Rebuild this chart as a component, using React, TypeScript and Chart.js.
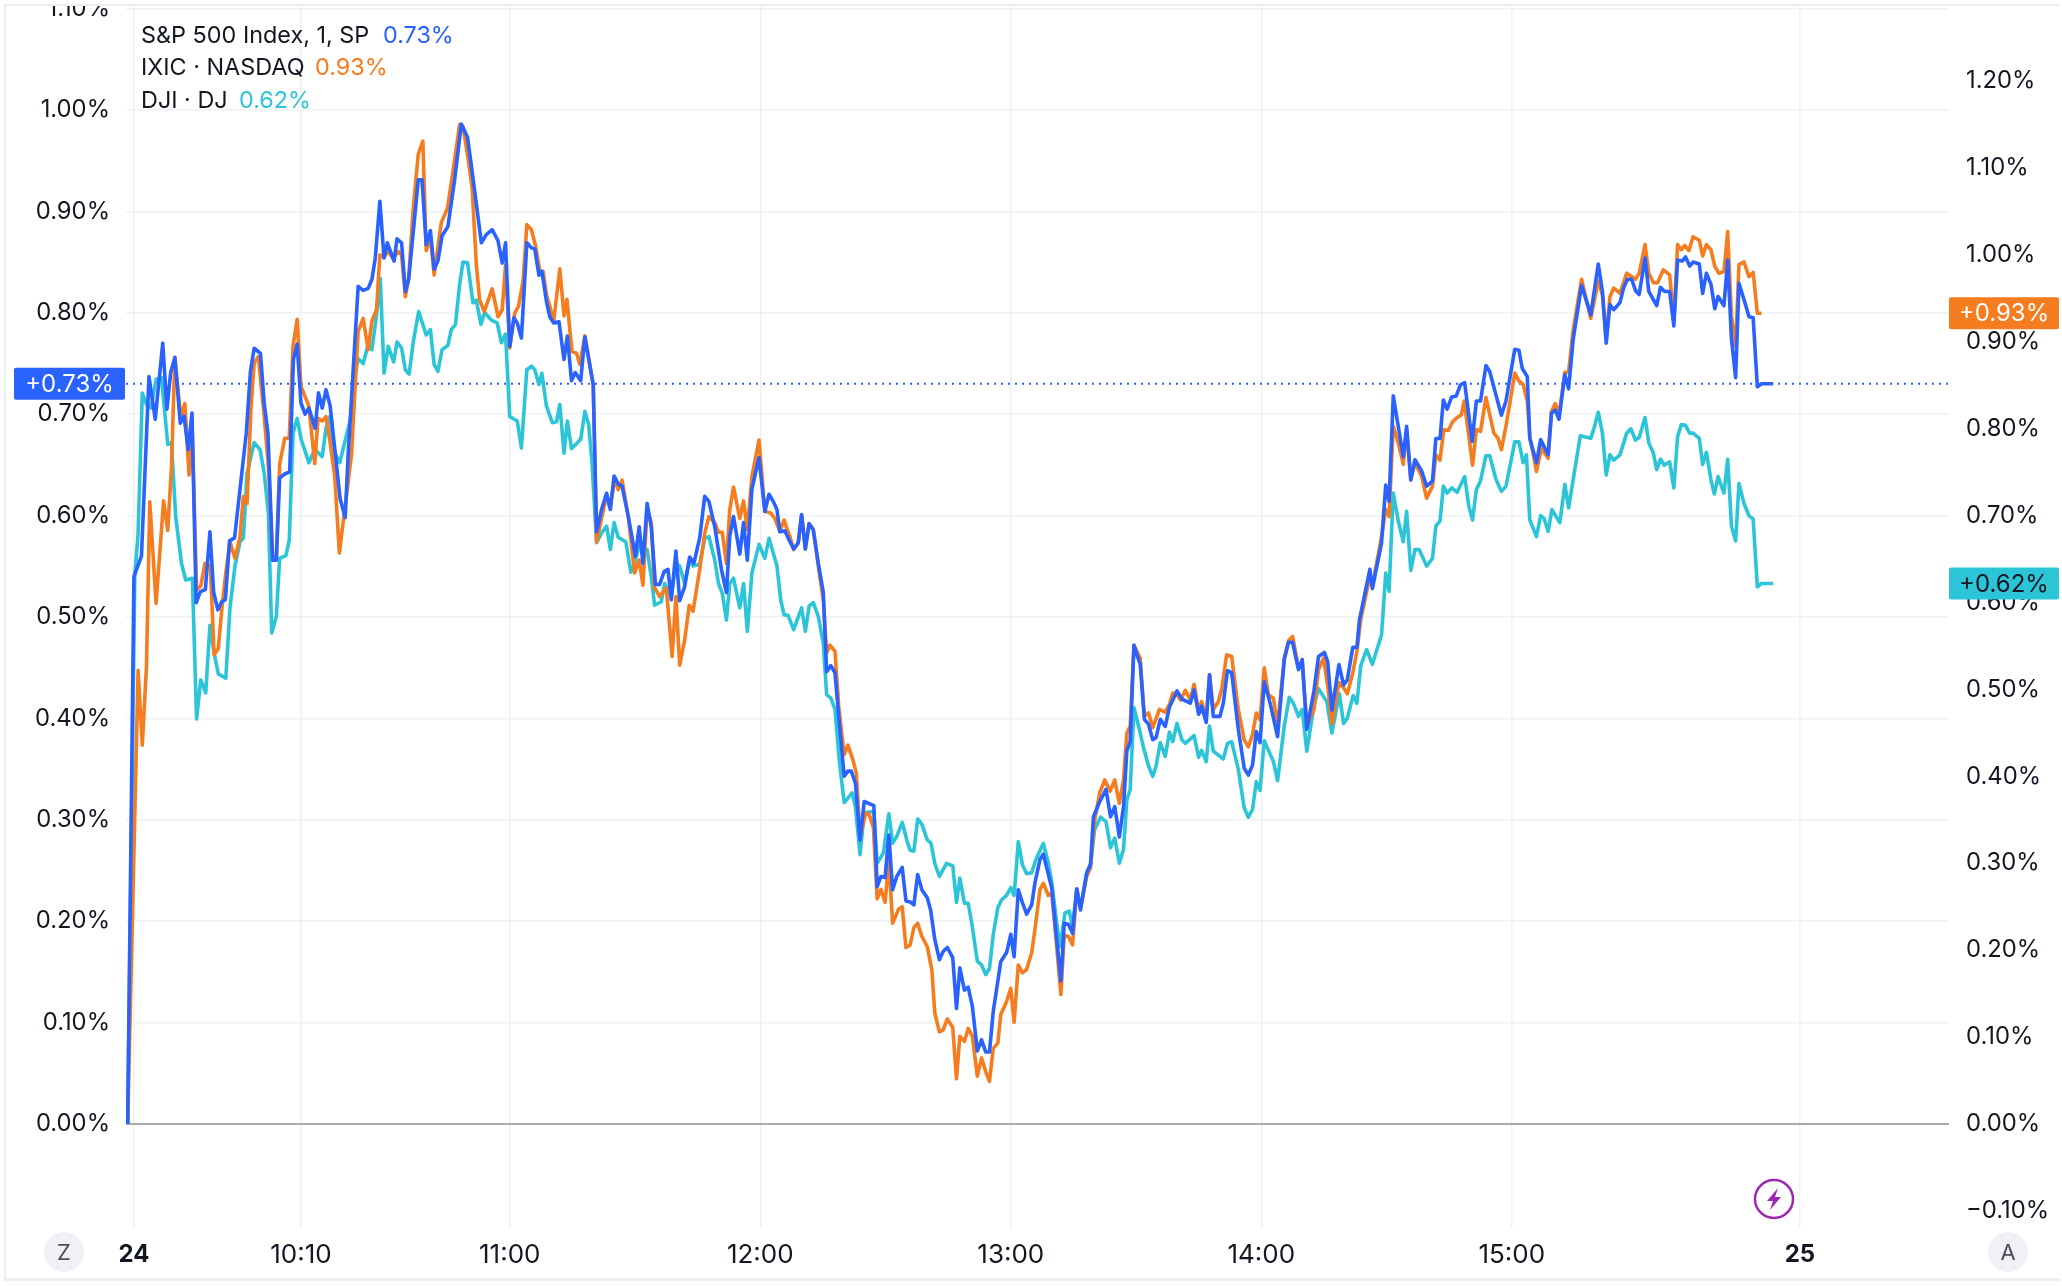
import { useEffect, useRef } from "react";
import { Chart, registerables, type Plugin } from "chart.js";

Chart.register(...registerables);

// [minutes after 09:30, % change]
const spxPoints = [
  [-1.5,0],[0,.54],[1.8,.56],[3.6,.737],[5.1,.695],[6.9,.77],[7.9,.705],[8.8,.741],[9.8,.756],[11.1,.691],[12,.698],[13,.665],[13.9,.701],[14.9,.514],[15.9,.525],[17.1,.527],[18.2,.584],[19.1,.524],[20.1,.507],[21,.515],[21.9,.517],[22.9,.575],[24.1,.578],[26.9,.681],[27.9,.742],[28.8,.765],[30.3,.76],[31.2,.711],[32.1,.681],[33.2,.556],[34.1,.556],[34.9,.637],[36.1,.641],[37.3,.643],[38.2,.754],[39.1,.769],[40,.711],[41,.7],[41.9,.706],[43.4,.686],[44.2,.721],[45.1,.706],[46,.724],[47,.708],[48.2,.662],[49.4,.616],[50.6,.598],[51.3,.66],
  [53.7,.826],[54.9,.822],[56.1,.824],[57,.833],[57.8,.854],[58.9,.91],[59.9,.854],[60.7,.869],[62.3,.851],[63,.873],[64.1,.869],[65,.821],[65.8,.833],[68.1,.931],[69,.931],[70,.867],[71,.881],[71.9,.843],[72.8,.851],[73.8,.876],[75.2,.885],[76.8,.931],[78.4,.986],[79.9,.973],[81.2,.933],[83.2,.869],[84.4,.877],[85.8,.882],[87.2,.871],[88.2,.849],[89,.869],[90,.767],[91,.795],[91.8,.79],[92.8,.775],[94.1,.869],[95.2,.864],[96,.863],[97,.837],[97.7,.841],[98.8,.811],[99.6,.796],[100.5,.79],[101.8,.791],
  [103,.754],[103.8,.777],[104.8,.733],[105.7,.741],[107,.733],[108,.776],[110,.729],[110.8,.584],[112,.606],[113.2,.622],[114.1,.606],[115,.639],[116,.631],[116.9,.629],[118.4,.599],[120.1,.56],[121,.589],[121.9,.553],[122.9,.612],[123.9,.589],[124.9,.532],[125.9,.532],[127,.545],[127.9,.547],[128.7,.517],[129.8,.565],[130.7,.516],[131.9,.53],[133.1,.559],[134.1,.553],[135.5,.578],[136.7,.619],[137.7,.614],[139.1,.589],[140.7,.547],[141.9,.524],[142.7,.58],[143.6,.599],[145.1,.562],[146,.593],[146.9,.556],[148,.626],[149.7,.657],
  [151.1,.604],[152.1,.621],[153.1,.614],[154,.606],[154.7,.584],[155.9,.585],[156.9,.576],[158,.567],[159.1,.573],[159.9,.601],[160.8,.567],[161.7,.592],[162.7,.586],[163.9,.553],[165.1,.524],[165.9,.446],[166.9,.452],[167.9,.445],[169,.392],[170.1,.343],[171,.348],[171.8,.348],[172.8,.336],[173.9,.28],[174.9,.318],[177.2,.314],[178,.234],[178.9,.244],[179.9,.243],[180.8,.285],[181.7,.231],[182.7,.244],[184,.253],[184.9,.22],[185.9,.219],[186.8,.216],[187.7,.246],[188.7,.231],[190,.223],[190.8,.211],[191.8,.182],[192.9,.162],[193.8,.17],[194.8,.174],[196.1,.164],[197,.114],[197.8,.154],[198.9,.132],[199.8,.135],[200.8,.116],[202,.072],[203,.083],[204,.071],[204.9,.071],[205.8,.111],[207.6,.16],[209,.169],[210,.187],[210.8,.165],[211.8,.231],[212.8,.218],[213.8,.207],[215,.216],[215.8,.238],[217,.261],[217.8,.266],[219.8,.233],[221,.182],[222,.141],[222.8,.198],[223.8,.197],[224.8,.188],[225.8,.232],[226.7,.211],[228.2,.248],[229.1,.256],[229.8,.303],[231.2,.317],[232.8,.33],
  [233.9,.303],[234.9,.313],[236,.283],[237,.313],[237.8,.368],[238.6,.377],[239.5,.472],[241,.453],[242,.399],[243,.394],[244,.379],[244.8,.381],[245.8,.399],[247,.392],[248,.411],[249.8,.427],[251,.419],[253,.415],[253.9,.428],[255,.404],[255.7,.412],[256.8,.396],[257.6,.443],[258.5,.402],[260.1,.402],[260.9,.415],[261.9,.447],[262.9,.445],[264.5,.389],[265.9,.351],[266.9,.344],[267.9,.354],[268.8,.387],[269.7,.376],[270.7,.436],[272.1,.415],[273.9,.382],[275.5,.458],[276.5,.475],[277.5,.475],[278.9,.448],[279.8,.458],[280.9,.389],[282.6,.427],[283.7,.461],[285.1,.465],[285.9,.456],[286.9,.408],[288.6,.453],[289.7,.433],[290.6,.438],[291.9,.47],[292.9,.47],[293.5,.497],
  [296,.547],[296.6,.528],[298.8,.573],[299.8,.63],[300.6,.614],[301.6,.718],[304,.658],[304.8,.688],[305.8,.635],[306.8,.655],[308.4,.644],[309.6,.629],[311,.634],[311.8,.676],[312.8,.676],[313.6,.714],[314.5,.705],[315.6,.717],[316.7,.718],[317.7,.729],[318.7,.731],[320.5,.673],[321.5,.713],[322.5,.713],[323.8,.748],[324.7,.742],[326.2,.719],[327.5,.699],[328.6,.713],[330.7,.764],[331.7,.763],[332.5,.745],[333.7,.737],[334.3,.676],[335.9,.652],[336.9,.675],[338.7,.66],[339.5,.701],[340.4,.704],[341.3,.695],[342.7,.739],[343.6,.725],[344.7,.774],[346.7,.827],
  [348.9,.798],[350.7,.848],[351.7,.821],[352.6,.77],[353.5,.808],[354.4,.803],[355.9,.81],[356.8,.825],[357.7,.833],[358.7,.833],[359.6,.822],[360.5,.818],[361.9,.854],[362.8,.821],[364.7,.807],[365.6,.825],[366.6,.821],[367.8,.821],[368.8,.787],[369.7,.852],[370.8,.851],[371.6,.855],[372.6,.846],[373.4,.85],[374.9,.848],[375.7,.819],[376.6,.839],[377.7,.828],[378.6,.804],[379.4,.816],[380.8,.807],[381.7,.852],[382.6,.774],[383.6,.736],[384.4,.829],[385.6,.813],[386.8,.796],[387.8,.795],[388.8,.727],[389.8,.73],[392.6,.73],
];

const ixicPoints = [
  [-1.5,0],[1,.522],[2,.436],[3,.526],[3.8,.716],[5.3,.599],[7.1,.717],[8.1,.683],[9,.757],[9.8,.882],[11.2,.814],[12.2,.829],[13.2,.747],[14,.795],[15,.615],[16,.619],[17,.645],[18.3,.642],[19.2,.54],[20.2,.547],[21.1,.595],[22,.634],[23,.67],[24.2,.651],[25.4,.676],[26.2,.722],[27.1,.714],[28,.822],[28.8,.876],[29.8,.883],[31.2,.814],[32.2,.757],[33.2,.653],[34.1,.653],[34.9,.759],[36.1,.789],[37.2,.789],[38.1,.895],[39.1,.926],[40,.849],[41.9,.826],[43.3,.76],[44.1,.812],[45.1,.809],[46,.814],[46.9,.787],[48.1,.745],[49.2,.657],
  [52.1,.77],[53.7,.912],[54.9,.927],[56.1,.891],[57,.924],[58.1,.937],[58.9,1],[59.9,.998],[60.9,1.004],[62.1,.996],[63.3,1.004],[64.1,1],[65,.952],[65.8,.973],[66.9,1.054],[68.1,1.116],[69.2,1.131],[70,1.005],[71,1.02],[71.9,.977],[73.6,1.037],[75.1,1.054],[76.4,1.096],[78,1.15],[78.8,1.148],[80,1.112],[81,1.077],[82,.989],[82.8,.948],[83.9,.935],[85.8,.961],[87.2,.929],[88.2,.937],[89,.989],[90,.893],[91.2,.933],[92.1,.941],[93.2,.97],[94.1,1.035],[95.2,1.029],[96.2,1.01],[97.2,.982],[98,.981],[98.8,.954],[99.6,.941],[100.5,.923],[102,.984],[103,.93],[103.7,.949],[104.9,.889],
  [106,.887],[106.8,.874],[108,.907],[110,.851],[110.8,.67],[112,.697],[113.2,.724],[114,.709],[115.2,.743],[116,.73],[116.9,.741],[118.4,.699],[119.9,.634],[121,.649],[121.9,.62],[122.9,.707],[123.9,.692],[124.7,.617],[125.9,.607],[127.5,.617],[128.9,.538],[129.8,.607],[130.7,.528],[131.9,.557],[133,.597],[133.9,.59],[135.5,.638],[136.7,.68],[137.7,.699],[139.1,.692],[140,.681],[140.9,.681],[141.9,.645],[142.7,.707],[143.6,.733],[145.1,.697],[146,.717],[146.9,.684],[148,.745],[149.7,.787],
  [151.1,.705],[152.5,.703],[153.5,.697],[154.7,.682],[155.7,.695],[157.1,.676],[158,.661],[159.1,.669],[159.9,.701],[160.8,.662],[161.7,.691],[162.7,.684],[163.9,.642],[165.1,.603],[165.9,.542],[166.7,.551],[167.9,.544],[168.8,.48],[170.1,.425],[171,.436],[172.2,.419],[173,.404],[173.9,.33],[175.3,.358],[176.1,.356],[177.1,.341],[178,.259],[178.9,.27],[179.9,.255],[180.8,.304],[181.7,.231],[183.1,.247],[184,.25],[184.9,.203],[185.9,.206],[186.8,.226],[187.7,.231],[188.7,.216],[190,.204],[191.1,.177],[191.8,.128],[192.9,.106],[193.8,.108],[194.8,.121],[196.1,.111],[197,.052],[197.8,.101],[198.9,.095],[199.8,.11],[200.8,.101],[202,.055],[203,.076],[204,.06],[204.9,.049],[205.8,.087],[206.9,.093],[207.6,.126],[209,.141],[210,.156],[210.8,.117],[211.8,.183],[212.8,.174],[213.8,.178],[215,.197],[215.8,.224],[217,.27],[217.8,.277],[219,.263],[219.8,.266],[221,.204],[222,.149],[222.8,.217],[223.8,.216],[224.8,.206],[225.8,.27],[226.7,.249],[228.2,.285],[229.1,.295],[230.1,.35],[231.3,.381],[232.5,.396],
  [233.8,.383],[234.9,.396],[236,.369],[237,.396],[237.8,.45],[238.6,.458],[239.5,.551],[241,.536],[242,.469],[243,.473],[244,.456],[245.6,.477],[247,.474],[248,.483],[248.8,.496],[249.8,.494],[250.7,.488],[251.8,.499],[253,.488],[253.9,.506],[255,.475],[255.7,.486],[256.8,.465],[257.6,.517],[258.5,.477],[259.7,.486],[260.5,.5],[261.7,.54],[262.9,.538],[264.5,.477],[265.9,.442],[266.9,.434],[267.9,.448],[268.8,.473],[269.7,.465],[270.7,.525],[271.7,.494],[272.9,.49],[273.9,.458],[275.5,.536],[276.5,.556],[277.5,.561],[278.9,.525],[279.8,.532],[280.9,.458],[282.6,.477],[283.7,.523],[284.9,.536],[285.9,.504],[286.9,.461],[288.6,.508],[289.7,.502],[290.6,.495],[291.9,.519],[292.9,.544],[293.8,.58],
  [296,.63],[296.6,.619],[298.8,.676],[299.8,.707],[300.6,.699],[301.6,.803],[302.8,.784],[304,.759],[304.8,.799],[305.8,.742],[306.8,.761],[308.4,.745],[309.6,.72],[311,.734],[311.8,.77],[312.8,.764],[313.7,.799],[314.8,.798],[315.8,.808],[316.9,.813],[317.9,.816],[318.6,.832],[320.6,.758],[321.5,.799],[322.5,.797],[323.8,.836],[325.7,.795],[326.7,.789],[327.5,.776],[328.6,.803],[330.7,.864],[331.7,.855],[332.7,.851],[333.7,.832],[334.3,.791],[335.9,.751],[337.1,.778],[338.7,.766],[339.5,.82],[340.4,.829],[341.3,.816],[342.7,.865],[343.6,.865],[344.7,.914],[346.7,.972],
  [348.9,.927],[350.7,.97],[351.7,.954],[352.6,.903],[353.5,.952],[354.4,.962],[355.9,.956],[357.5,.979],[358.7,.975],[359.6,.972],[360.5,.979],[361.9,1.012],[362.8,.979],[363.9,.968],[364.9,.968],[366.3,.983],[367.8,.977],[368.8,.926],[369.7,1.012],[370.6,1.006],[371.4,1.011],[372.4,1.005],[373.4,1.021],[374.9,1.017],[375.7,.999],[376.6,1.012],[377.7,1.006],[378.6,.987],[379.6,.979],[380.8,.981],[381.7,1.027],[382.6,.929],[383.6,.895],[384.4,.989],[385.6,.992],[386.8,.975],[387.8,.98],[388.8,.933],[389.8,.933],
];

const djiPoints = [
  [-1.5,0],[.2,.63],[1,.68],[2,.841],[3,.828],[4.1,.824],[5.3,.857],[6.6,.859],[8.1,.782],[9,.784],[10,.699],[11.4,.645],[12.4,.626],[14,.628],[15,.466],[16,.511],[17.2,.496],[18.2,.574],[19.2,.542],[20.2,.518],[22,.513],[23,.594],[24.2,.642],[25.4,.67],[26.2,.674],[27.1,.749],[28.8,.784],[30.2,.776],[31.2,.749],[32.2,.703],[33,.565],[34.1,.584],[34.9,.651],[36.4,.654],[37.2,.672],[38.1,.795],[39.1,.812],[40.1,.787],[41.9,.761],[43.3,.776],[45.1,.768],[46,.801],[46.9,.814],[48.1,.772],[49.3,.761],
  [52.1,.816],[52.9,.862],[53.7,.881],[54.9,.875],[56.1,.897],[57,.891],[58.1,.931],[59,.973],[59.9,.864],[60.9,.895],[62.2,.877],[63,.9],[64.1,.893],[65,.868],[65.9,.863],[66.9,.9],[68.2,.935],[70,.908],[71,.914],[71.9,.874],[72.8,.866],[73.8,.891],[75.2,.896],[76,.914],[77,.92],[78,.966],[78.8,.992],[79.9,.991],[81.2,.945],[82,.948],[83.1,.92],[84,.934],[85.6,.925],[87,.922],[88,.899],[89,.909],[90,.814],[91.8,.809],[92.8,.778],[94.1,.868],[95.2,.872],[96,.868],[97,.851],[97.7,.864],[98.8,.826],
  [100.2,.807],[101.2,.808],[102,.828],[103,.772],[103.8,.809],[104.8,.777],[107,.788],[108,.82],[108.9,.805],[109.7,.761],[110.8,.669],[112,.68],[113.2,.688],[114.1,.661],[115,.692],[116,.675],[117.8,.67],[119,.635],[119.9,.646],[121,.665],[121.9,.657],[122.9,.661],[123.9,.63],[124.7,.597],[126.3,.601],[127.1,.622],[128.7,.607],[129.8,.645],[130.7,.642],[131.9,.622],[133,.649],[133.9,.642],[135.5,.644],[136.7,.674],[137.7,.676],[139.1,.649],[140,.622],[140.9,.611],[141.9,.58],[142.7,.622],[143.6,.628],[145.1,.594],[146,.622],[146.9,.567],[148,.634],[149.7,.667],
  [151.1,.651],[152.1,.674],[154,.642],[154.9,.603],[155.7,.586],[156.7,.585],[158,.569],[159.9,.594],[160.8,.567],[161.7,.596],[162.7,.6],[163.9,.584],[165.1,.553],[165.9,.494],[166.9,.49],[167.9,.477],[169,.415],[170.1,.37],[171,.375],[172,.381],[172.8,.365],[173.9,.31],[174.9,.358],[177.2,.36],[178,.3],[179.5,.312],[180.8,.357],[181.7,.323],[182.7,.331],[184,.347],[185.2,.325],[185.9,.315],[186.8,.314],[187.7,.351],[188.7,.345],[190,.327],[190.9,.323],[191.8,.3],[192.9,.285],[194.6,.3],[196.1,.297],[197,.255],[197.8,.283],[198.9,.254],[199.8,.254],[200.8,.227],[202,.187],[203,.183],[204,.172],[204.9,.179],[205.8,.218],[206.9,.249],[207.8,.258],[209,.263],[210,.272],[210.8,.263],[211.8,.325],[212.8,.298],[213.8,.288],[215,.289],[216,.304],[217.8,.323],[219,.3],[219.8,.279],[221,.231],[221.8,.204],[223,.243],[224,.245],[224.8,.227],[225.8,.27],[226.7,.249],[228.2,.289],[229.1,.299],[230.1,.339],[231.5,.353],[232.8,.348],
  [233.9,.318],[234.9,.329],[236,.3],[237,.316],[237.8,.373],[238.6,.385],[239.5,.479],[240.6,.458],[241.8,.433],[243,.412],[244,.4],[244.8,.412],[245.8,.439],[247,.423],[248,.451],[248.8,.44],[249.8,.461],[251,.442],[251.8,.438],[253.9,.447],[255,.422],[255.7,.43],[256.8,.417],[257.6,.458],[258.5,.429],[260.9,.42],[261.9,.438],[262.9,.44],[264.5,.408],[265.9,.364],[266.9,.353],[267.9,.362],[268.8,.394],[269.7,.384],[270.7,.441],[272.9,.417],[273.9,.395],[275.5,.458],[276.7,.491],[277.7,.484],[278.9,.469],[279.8,.477],[280.9,.429],[282.6,.481],[283.7,.501],[285.7,.486],[286.9,.45],[288.7,.495],[289.7,.461],[290.6,.467],[292,.493],[292.9,.484],[293.8,.527],[295.2,.546],
  [296.6,.529],[298.8,.563],[299.8,.634],[300.6,.613],[301.6,.726],[302.8,.694],[304,.67],[304.8,.705],[305.8,.637],[306.8,.661],[307.8,.661],[309.6,.642],[311,.651],[311.8,.688],[312.8,.694],[313.6,.734],[314.5,.726],[315.6,.732],[316.9,.727],[318.7,.745],[319.7,.711],[320.6,.695],[321.5,.73],[322.5,.74],[323.8,.769],[324.7,.769],[326.2,.742],[327.5,.728],[328.6,.734],[330.7,.785],[331.7,.785],[332.7,.761],[333.5,.77],[334.3,.695],[335.9,.676],[336.9,.7],[337.7,.697],[338.7,.682],[339.6,.707],[341.5,.692],[342.7,.736],[343.6,.709],[346.4,.792],
  [348.9,.789],[349.7,.801],[350.7,.819],[351.7,.795],[352.6,.747],[353.5,.77],[354.4,.764],[355.9,.77],[357.5,.795],[358.5,.8],[359.6,.787],[360.5,.79],[361.9,.813],[362.8,.784],[363.9,.772],[364.7,.753],[365.6,.765],[366.5,.758],[367.8,.762],[368.8,.732],[369.7,.791],[370.6,.805],[371.6,.804],[372.6,.795],[373.4,.795],[374.9,.789],[375.7,.759],[376.6,.773],[377.7,.741],[378.5,.725],[379.4,.745],[380.8,.726],[381.7,.765],[382.6,.688],[383.6,.671],[384.4,.737],[385.6,.714],[386.8,.7],[387.8,.696],[388.8,.618],[389.8,.622],[392.6,.622],
];

const timeTicks = [0, 40, 90, 150, 210, 270, 330, 399];
const timeLabels = ["24", "10:10", "11:00", "12:00", "13:00", "14:00", "15:00", "25"];
const boldLabels = ["24", "25"];

const spxLast = 0.73;
const ixicLast = 0.933;
const djiLast = 0.622;

const BLUE = "#2962ff";
const ORANGE = "#f57c1f";
const TEAL = "#2cc5d8";
const TEXT = "#131722";
const GRID = "#f0f1f5";
const FONT = "Inter, 'Liberation Sans', sans-serif";

const toXY = (points: number[][]) => points.map(([x, y]) => ({ x, y }));

const overlayPlugin: Plugin<"line"> = {
  id: "overlay",
  afterDraw(chart) {
    const { ctx, scales } = chart;
    ctx.save();

    // frame, also cuts the top tick label like the widget edge does
    ctx.fillStyle = "#fff";
    ctx.fillRect(0, 0, 2062, 4);
    ctx.fillRect(0, 1279, 2062, 7);
    ctx.fillStyle = "#eceef3";
    ctx.fillRect(4, 4, 2056, 2);
    ctx.fillRect(4, 4, 2, 1275);
    ctx.fillRect(4, 1278, 2056, 3);

    const pill = (x: number, w: number, value: number, text: string, bg: string, fg: string) => {
      const y = scales[value === spxLast ? "y" : "y1"].getPixelForValue(value);
      ctx.fillStyle = bg;
      ctx.beginPath();
      ctx.roundRect(x, y - 16, w, 32, 2);
      ctx.fill();
      ctx.fillStyle = fg;
      ctx.font = `24px ${FONT}`;
      ctx.textAlign = "center";
      ctx.textBaseline = "middle";
      ctx.fillText(text, x + w / 2, y + 1);
    };
    pill(14, 111, spxLast, "+0.73%", BLUE, "#fff");
    pill(1949, 110, ixicLast, "+0.93%", ORANGE, "#fff");
    pill(1949, 110, djiLast, "+0.62%", TEAL, TEXT);

    // legend
    ctx.font = `23.4px ${FONT}`;
    ctx.textAlign = "left";
    ctx.textBaseline = "middle";
    const legend: [string, string, string, number, number][] = [
      ["S&P 500 Index, 1, SP", "0.73%", BLUE, 36, 383],
      ["IXIC · NASDAQ", "0.93%", ORANGE, 68, 315],
      ["DJI · DJ", "0.62%", TEAL, 101, 239],
    ];
    for (const [name, value, color, y, valueX] of legend) {
      ctx.fillStyle = TEXT;
      ctx.fillText(name, 141, y);
      ctx.fillStyle = color;
      ctx.fillText(value, valueX, y);
    }

    // scale mode buttons
    for (const [label, x] of [["Z", 64], ["A", 2008]] as [string, number][]) {
      ctx.fillStyle = "#f0f1f6";
      ctx.beginPath();
      ctx.arc(x, 1252, 20, 0, Math.PI * 2);
      ctx.fill();
      ctx.fillStyle = "#4a4e5a";
      ctx.font = `22px ${FONT}`;
      ctx.textAlign = "center";
      ctx.fillText(label, x, 1253);
    }

    // earnings/event marker
    ctx.strokeStyle = "#9c27b0";
    ctx.lineWidth = 2.5;
    ctx.beginPath();
    ctx.arc(1774, 1199, 19, 0, Math.PI * 2);
    ctx.stroke();
    ctx.fillStyle = "#9c27b0";
    ctx.beginPath();
    ctx.moveTo(1778, 1188);
    ctx.lineTo(1767, 1201);
    ctx.lineTo(1773, 1201);
    ctx.lineTo(1770, 1210);
    ctx.lineTo(1781, 1197);
    ctx.lineTo(1775, 1197);
    ctx.closePath();
    ctx.fill();

    ctx.restore();
  },
};

export default function App() {
  const canvasRef = useRef<HTMLCanvasElement | null>(null);

  useEffect(() => {
    const canvas = canvasRef.current;
    if (!canvas) {
      return;
    }

    const line = (label: string, points: number[][], color: string, yAxisID: string) => ({
      label,
      data: toXY(points),
      yAxisID,
      borderColor: color,
      borderWidth: 3.6,
      pointRadius: 0,
      tension: 0,
      borderJoinStyle: "round" as const,
    });

    const xMin = -1.9;
    const xMax = 434.7;

    const chart = new Chart(canvas, {
      type: "line",
      data: {
        datasets: [
          line("S&P 500 Index", spxPoints, BLUE, "y"),
          line("IXIC", ixicPoints, ORANGE, "y1"),
          line("DJI", djiPoints, TEAL, "y1"),
          {
            label: "S&P 500 last",
            data: [
              { x: xMin, y: spxLast },
              { x: xMax, y: spxLast },
            ],
            yAxisID: "y",
            borderColor: BLUE,
            borderWidth: 2,
            borderDash: [2, 5],
            pointRadius: 0,
          },
        ],
      },
      options: {
        responsive: false,
        animation: false,
        devicePixelRatio: 1,
        layout: { padding: { top: 5, left: 0, right: 0, bottom: 0 } },
        plugins: { legend: { display: false }, tooltip: { enabled: false } },
        scales: {
          x: {
            type: "linear",
            min: xMin,
            max: xMax,
            border: { display: false },
            grid: { color: GRID, lineWidth: 1.5, drawTicks: false },
            afterBuildTicks(scale) {
              scale.ticks = timeTicks.map((value) => ({ value }));
            },
            afterFit(scale) {
              scale.height = 58;
              scale.paddingLeft = 0;
              scale.paddingRight = 0;
            },
            ticks: {
              autoSkip: false,
              maxRotation: 0,
              padding: 12,
              color: TEXT,
              font(ctx) {
                const label = timeLabels[timeTicks.indexOf(ctx.tick?.value)];
                return boldLabels.includes(label)
                  ? { family: FONT, size: 24, weight: "bold" }
                  : { family: FONT, size: 26, weight: "normal" };
              },
              callback(value) {
                return timeLabels[timeTicks.indexOf(Number(value))] ?? "";
              },
            },
          },
          y: {
            position: "left",
            min: -0.1026,
            max: 1.1035,
            border: { display: false },
            grid: {
              drawTicks: false,
              lineWidth(ctx) {
                return Math.abs(ctx.tick?.value) < 0.001 ? 2 : 1.5;
              },
              color(ctx) {
                return Math.abs(ctx.tick?.value) < 0.001 ? "#a9abb3" : GRID;
              },
            },
            afterBuildTicks(scale) {
              scale.ticks = [0, 0.1, 0.2, 0.3, 0.4, 0.5, 0.6, 0.7, 0.8, 0.9, 1, 1.1].map((value) => ({ value }));
            },
            afterFit(scale) {
              scale.width = 126;
              scale.paddingTop = 0;
              scale.paddingBottom = 0;
            },
            ticks: {
              padding: 16,
              color: TEXT,
              font: { family: FONT, size: 23.8 },
              callback(value) {
                return `${Number(value).toFixed(2)}%`;
              },
            },
          },
          y1: {
            position: "right",
            min: -0.1197,
            max: 1.2877,
            border: { display: false },
            grid: { display: false, drawTicks: false },
            afterBuildTicks(scale) {
              scale.ticks = [-0.1, 0, 0.1, 0.2, 0.3, 0.4, 0.5, 0.6, 0.7, 0.8, 0.9, 1, 1.1, 1.2].map((value) => ({ value }));
            },
            afterFit(scale) {
              scale.width = 113;
              scale.paddingTop = 0;
              scale.paddingBottom = 0;
            },
            ticks: {
              padding: 17,
              color: TEXT,
              font: { family: FONT, size: 23.8 },
              callback(value) {
                const n = Number(value);
                return n < 0 ? `\u2212${Math.abs(n).toFixed(2)}%` : `${n.toFixed(2)}%`;
              },
            },
          },
        },
      },
      plugins: [overlayPlugin],
    });

    return () => {
      chart.destroy();
    };
  }, []);

  return (
    <div style={{ position: "fixed", left: 0, top: 0, width: 2062, height: 1286, background: "#fff" }}>
      <canvas ref={canvasRef} width={2062} height={1286} style={{ display: "block" }} />
    </div>
  );
}
